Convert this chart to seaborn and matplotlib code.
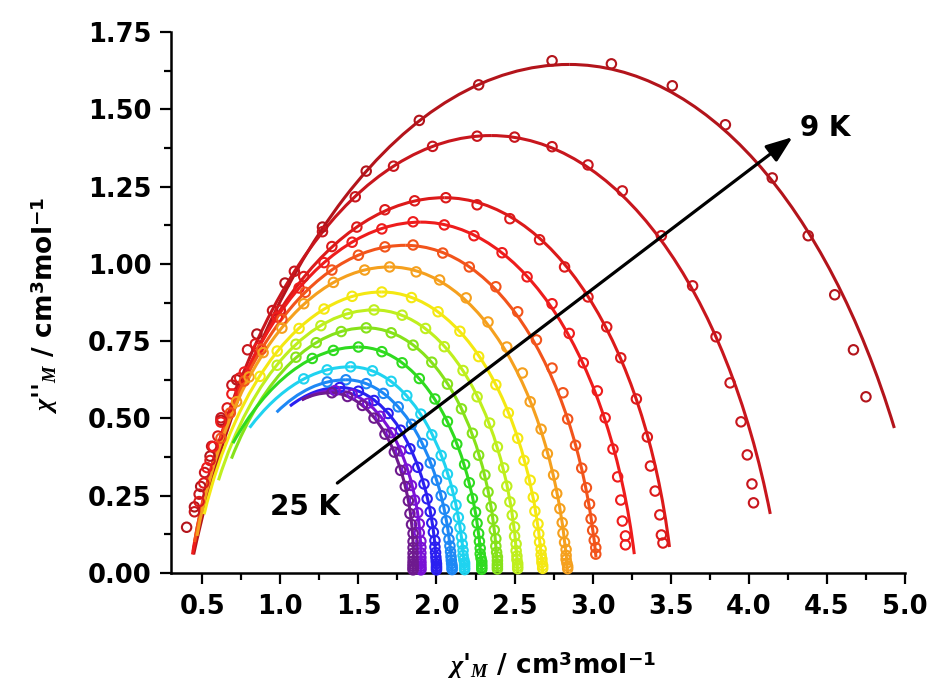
import numpy as np
import matplotlib
matplotlib.use("Agg")
import matplotlib.pyplot as plt
from matplotlib.patches import Arc
from matplotlib.ticker import MultipleLocator, FormatStrFormatter
import seaborn as sns

# ---------------- data ----------------
temps = [9, 10, 11, 12, 13, 14, 15, 16, 17, 18, 19, 20, 21, 23, 25]
colors = ["#B3141B", "#C8161D", "#DC1A1A", "#EE1C1C", "#F2541B", "#F5A01E",
          "#F4E812", "#BFEF1E", "#86E21A", "#2FDB1F", "#1FD3F0", "#1E88F5",
          "#2A1FF0", "#7A12D6", "#6E1A8E"]

# fitted Cole-Cole arcs: peak position/height, intercepts, drawn extent
peak_x = [2.85, 2.35, 2.05, 1.90, 1.80, 1.70, 1.65, 1.60, 1.55, 1.50, 1.45, 1.42, 1.38, 1.35, 1.32]
peak_y = [1.645, 1.415, 1.214, 1.135, 1.06, 0.99, 0.909, 0.851, 0.793, 0.731, 0.667, 0.625, 0.60, 0.59, 0.583]
chi_s = [0.42, 0.42, 0.42, 0.42, 0.42, 0.43, 0.44, 0.47, 0.50, 0.40, 0.40, 0.50, 0.55, 0.60, 0.60]
chi_t = [5.15, 4.20, 3.51, 3.28, 3.03, 2.84, 2.68, 2.52, 2.39, 2.29, 2.18, 2.10, 2.00, 1.90, 1.85]
line_y_left = [0.06, 0.08, 0.07, 0.06, 0.10, 0.12, 0.19, 0.30, 0.37, 0.42, 0.47, 0.52, 0.54, 0.56, 0.56]
line_y_right = [0.469, 0.191, 0.084, 0.061, 0.05, 0, 0, 0, 0, 0, 0, 0, 0, 0, 0]

# experimental points chi' (chi1) and chi'' (chi2)
chi1_09 = [0.40, 0.45, 0.49, 0.55, 0.62, 0.72, 0.85, 1.03, 1.27, 1.55, 1.89, 2.27, 2.74, 3.12, 3.51, 3.85, 4.15, 4.38, 4.55, 4.67, 4.75]
chi2_09 = [0.148, 0.214, 0.280, 0.378, 0.494, 0.625, 0.773, 0.938, 1.119, 1.300, 1.464, 1.579, 1.657, 1.647, 1.576, 1.450, 1.278, 1.091, 0.900, 0.722, 0.570]
chi1_10 = [0.45, 0.48, 0.515, 0.56, 0.62, 0.69, 0.79, 0.95, 1.09, 1.27, 1.48, 1.725, 1.975, 2.26, 2.50, 2.74, 2.97, 3.19, 3.44, 3.64, 3.79, 3.88, 3.95, 3.99, 4.02, 4.03]
chi2_10 = [0.198, 0.255, 0.325, 0.410, 0.502, 0.608, 0.722, 0.849, 0.976, 1.104, 1.217, 1.316, 1.380, 1.413, 1.410, 1.379, 1.320, 1.236, 1.091, 0.929, 0.764, 0.615, 0.489, 0.382, 0.288, 0.227]
chi1_11 = [0.48, 0.51, 0.55, 0.60, 0.66, 0.74, 0.84, 1.00, 1.15, 1.33, 1.49, 1.67, 1.86, 2.06, 2.26, 2.47, 2.66, 2.82, 2.97, 3.09, 3.18, 3.28, 3.35, 3.37, 3.40, 3.43, 3.44, 3.45]
chi2_11 = [0.231, 0.291, 0.364, 0.443, 0.534, 0.631, 0.741, 0.850, 0.959, 1.056, 1.119, 1.175, 1.204, 1.214, 1.191, 1.146, 1.078, 0.990, 0.893, 0.796, 0.696, 0.563, 0.440, 0.346, 0.265, 0.188, 0.123, 0.097]
chi1_12 = [0.53, 0.57, 0.62, 0.69, 0.77, 0.86, 0.98, 1.12, 1.28, 1.46, 1.65, 1.85, 2.05, 2.24, 2.42, 2.58, 2.74, 2.85, 2.94, 3.03, 3.08, 3.13, 3.16, 3.18, 3.19, 3.21, 3.21]
chi2_12 = [0.341, 0.409, 0.488, 0.579, 0.650, 0.728, 0.828, 0.922, 1.004, 1.070, 1.113, 1.136, 1.126, 1.091, 1.036, 0.958, 0.871, 0.775, 0.680, 0.589, 0.502, 0.401, 0.311, 0.236, 0.168, 0.120, 0.091]
chi1_13 = [0.62, 0.68, 0.77, 0.88, 1.01, 1.16, 1.33, 1.50, 1.67, 1.85, 2.04, 2.21, 2.38, 2.52, 2.64, 2.74, 2.81, 2.84, 2.89, 2.93, 2.96, 2.98, 2.99, 3.00, 3.01, 3.02, 3.02]
chi2_13 = [0.436, 0.518, 0.621, 0.724, 0.821, 0.908, 0.980, 1.028, 1.055, 1.061, 1.035, 0.990, 0.926, 0.845, 0.754, 0.663, 0.583, 0.498, 0.413, 0.339, 0.276, 0.223, 0.175, 0.138, 0.106, 0.082, 0.061]
chi1_14 = [0.72, 0.80, 0.89, 1.01, 1.15, 1.34, 1.54, 1.70, 1.87, 2.02, 2.19, 2.33, 2.45, 2.55, 2.60, 2.67, 2.71, 2.75, 2.77, 2.79, 2.805, 2.81, 2.82, 2.83, 2.83, 2.83, 2.835, 2.84, 2.84]
chi2_14 = [0.554, 0.634, 0.713, 0.792, 0.871, 0.940, 0.980, 0.990, 0.974, 0.948, 0.890, 0.812, 0.731, 0.647, 0.554, 0.465, 0.386, 0.317, 0.257, 0.208, 0.163, 0.129, 0.099, 0.076, 0.057, 0.044, 0.032, 0.022, 0.014]
chi1_15 = [0.87, 0.98, 1.12, 1.28, 1.46, 1.65, 1.84, 2.01, 2.15, 2.27, 2.38, 2.46, 2.52, 2.56, 2.60, 2.62, 2.63, 2.65, 2.655, 2.66, 2.67, 2.67, 2.675, 2.675, 2.68, 2.68]
chi2_15 = [0.636, 0.718, 0.791, 0.854, 0.895, 0.909, 0.891, 0.845, 0.782, 0.700, 0.609, 0.518, 0.436, 0.364, 0.300, 0.245, 0.200, 0.159, 0.127, 0.100, 0.077, 0.059, 0.045, 0.034, 0.024, 0.015]
chi1_16 = [0.98, 1.10, 1.26, 1.43, 1.60, 1.78, 1.93, 2.05, 2.17, 2.26, 2.34, 2.39, 2.43, 2.45, 2.47, 2.485, 2.50, 2.50, 2.51, 2.51, 2.515, 2.515, 2.52, 2.52, 2.52]
chi2_16 = [0.672, 0.740, 0.800, 0.838, 0.851, 0.834, 0.791, 0.732, 0.655, 0.570, 0.485, 0.408, 0.340, 0.281, 0.230, 0.187, 0.149, 0.119, 0.094, 0.072, 0.055, 0.043, 0.031, 0.022, 0.014]
chi1_17 = [1.10, 1.23, 1.39, 1.55, 1.71, 1.85, 1.97, 2.07, 2.16, 2.23, 2.27, 2.31, 2.33, 2.35, 2.36, 2.37, 2.38, 2.38, 2.385, 2.39, 2.39, 2.39, 2.39, 2.39]
chi2_17 = [0.698, 0.745, 0.781, 0.793, 0.777, 0.737, 0.682, 0.611, 0.531, 0.452, 0.381, 0.317, 0.262, 0.214, 0.174, 0.139, 0.111, 0.087, 0.067, 0.052, 0.040, 0.029, 0.021, 0.013]
chi1_18 = [1.205, 1.34, 1.50, 1.65, 1.78, 1.89, 1.99, 2.07, 2.13, 2.18, 2.21, 2.23, 2.25, 2.26, 2.27, 2.275, 2.28, 2.28, 2.285, 2.29, 2.29, 2.29, 2.29]
chi2_18 = [0.694, 0.720, 0.731, 0.716, 0.680, 0.629, 0.563, 0.490, 0.417, 0.351, 0.292, 0.241, 0.197, 0.161, 0.128, 0.102, 0.080, 0.062, 0.048, 0.037, 0.027, 0.019, 0.012]
chi1_19 = [1.15, 1.30, 1.45, 1.59, 1.71, 1.81, 1.90, 1.97, 2.03, 2.07, 2.10, 2.125, 2.14, 2.15, 2.16, 2.165, 2.17, 2.17, 2.175, 2.18, 2.18, 2.18, 2.18]
chi2_19 = [0.628, 0.657, 0.667, 0.654, 0.620, 0.574, 0.514, 0.447, 0.380, 0.320, 0.267, 0.220, 0.180, 0.147, 0.117, 0.093, 0.073, 0.057, 0.043, 0.033, 0.025, 0.017, 0.011]
chi1_20 = [1.30, 1.42, 1.55, 1.66, 1.755, 1.84, 1.91, 1.96, 2.00, 2.03, 2.05, 2.063, 2.07, 2.08, 2.086, 2.09, 2.093, 2.095, 2.097, 2.10, 2.10, 2.10]
chi2_20 = [0.618, 0.625, 0.6125, 0.581, 0.5375, 0.481, 0.419, 0.356, 0.300, 0.250, 0.206, 0.169, 0.1375, 0.109, 0.0875, 0.069, 0.053, 0.041, 0.031, 0.023, 0.016, 0.011]
chi1_21 = [1.38, 1.50, 1.60, 1.69, 1.77, 1.83, 1.88, 1.92, 1.94, 1.96, 1.97, 1.98, 1.99, 1.99, 1.994, 1.996, 1.998, 2.00, 2.00, 2.00, 2.00]
chi2_21 = [0.600, 0.588, 0.558, 0.516, 0.462, 0.402, 0.342, 0.288, 0.240, 0.198, 0.162, 0.132, 0.105, 0.084, 0.066, 0.051, 0.039, 0.030, 0.022, 0.016, 0.010]
chi1_23 = [1.35, 1.46, 1.56, 1.64, 1.71, 1.77, 1.81, 1.84, 1.86, 1.88, 1.89, 1.89, 1.90, 1.90, 1.90, 1.90, 1.90, 1.90, 1.90, 1.90, 1.90]
chi2_23 = [0.590, 0.578, 0.549, 0.507, 0.454, 0.395, 0.336, 0.283, 0.236, 0.195, 0.159, 0.130, 0.103, 0.083, 0.065, 0.050, 0.038, 0.030, 0.022, 0.015, 0.010]
chi1_25 = [1.33, 1.43, 1.525, 1.60, 1.67, 1.73, 1.77, 1.80, 1.82, 1.83, 1.84, 1.85, 1.85, 1.85, 1.85, 1.85, 1.85, 1.85, 1.85, 1.85, 1.85]
chi2_25 = [0.583, 0.571, 0.542, 0.501, 0.449, 0.391, 0.332, 0.280, 0.233, 0.192, 0.157, 0.128, 0.102, 0.082, 0.064, 0.050, 0.038, 0.029, 0.022, 0.015, 0.010]

points = [(chi1_09, chi2_09), (chi1_10, chi2_10), (chi1_11, chi2_11), (chi1_12, chi2_12),
          (chi1_13, chi2_13), (chi1_14, chi2_14), (chi1_15, chi2_15), (chi1_16, chi2_16),
          (chi1_17, chi2_17), (chi1_18, chi2_18), (chi1_19, chi2_19), (chi1_20, chi2_20),
          (chi1_21, chi2_21), (chi1_23, chi2_23), (chi1_25, chi2_25)]

x_ticks = [0.5, 1.0, 1.5, 2.0, 2.5, 3.0, 3.5, 4.0, 4.5, 5.0]
y_ticks = [0.00, 0.25, 0.50, 0.75, 1.00, 1.25, 1.50, 1.75]

# ---------------- style ----------------
sns.set_style("ticks")
plt.rcParams.update({
    "font.family": ["DejaVu Sans"],
    "font.weight": "bold",
    "mathtext.fontset": "custom",
    "mathtext.rm": "DejaVu Sans:bold",
    "mathtext.bf": "DejaVu Sans:bold",
    "mathtext.sf": "DejaVu Sans:bold",
    "mathtext.it": "Liberation Serif:italic",
    "axes.edgecolor": "black",
    "axes.labelcolor": "black",
    "text.color": "black",
    "xtick.color": "black",
    "ytick.color": "black",
})

fig = plt.figure(figsize=(9.33, 6.9), dpi=100, facecolor="white")
ax = fig.add_axes([171 / 933, 117 / 690, 734 / 933, 541 / 690])

# fitted arcs (two circular halves meeting at the peak)
for i, T in enumerate(temps):
    c = colors[i]
    xp, P = peak_x[i], peak_y[i]
    wR = chi_t[i] - xp
    RR = (wR ** 2 + P ** 2) / (2 * P)
    cyR = P - RR
    t_end = np.degrees(np.arcsin((line_y_right[i] - cyR) / RR))
    ax.add_patch(Arc((xp, cyR), 2 * RR, 2 * RR, theta1=t_end, theta2=90,
                     color=c, lw=2.2, zorder=2))
    wL = xp - chi_s[i]
    RL = (wL ** 2 + P ** 2) / (2 * P)
    cyL = P - RL
    t_start = 180 - np.degrees(np.arcsin((line_y_left[i] - cyL) / RL))
    ax.add_patch(Arc((xp, cyL), 2 * RL, 2 * RL, theta1=90, theta2=t_start,
                     color=c, lw=2.2, zorder=2))

# experimental points
for i, T in enumerate(temps):
    xs, ys = points[i]
    sns.scatterplot(x=xs, y=ys, ax=ax, marker="o", s=46, facecolor="none",
                    edgecolor=colors[i], linewidth=1.5, legend=False,
                    zorder=3, clip_on=False)

# arrow and labels
ax.annotate("", xy=(4.28, 1.41), xytext=(1.365, 0.291),
            arrowprops=dict(arrowstyle="-|>,head_length=0.8,head_width=0.3",
                            color="black", lw=2.3, shrinkA=0, shrinkB=0,
                            mutation_scale=20), zorder=6)
ax.text(4.33, 1.44, "9 K", fontsize=20, fontweight="bold", ha="left",
        va="center", color="black", zorder=7)
ax.text(1.16, 0.214, "25 K", fontsize=20, fontweight="bold", ha="center",
        va="center", color="black", zorder=7)

# axes
ax.set_xlim(0.3, 5.0)
ax.set_ylim(0, 1.75)
ax.set_xticks(x_ticks)
ax.set_yticks(y_ticks)
ax.xaxis.set_minor_locator(MultipleLocator(0.25))
ax.yaxis.set_minor_locator(MultipleLocator(0.125))
ax.xaxis.set_major_formatter(FormatStrFormatter("%.1f"))
ax.yaxis.set_major_formatter(FormatStrFormatter("%.2f"))
ax.tick_params(which="major", direction="out", length=8, width=1.6,
               labelsize=18.5, colors="black")
ax.tick_params(which="minor", direction="out", length=5, width=1.6,
               colors="black")
ax.tick_params(axis="x", which="major", pad=7)
ax.tick_params(axis="y", which="major", pad=6)
sns.despine(ax=ax)
for s in ["left", "bottom"]:
    ax.spines[s].set_linewidth(1.8)
    ax.spines[s].set_color("black")

ax.set_xlabel(r"$\chi$'$_{M}$ / cm$^{3}$mol$^{-1}$",
              fontsize=19, fontweight="bold")
ax.set_ylabel(r"$\chi$''$_{M}$ / cm$^{3}$mol$^{-1}$",
              fontsize=19, fontweight="bold")
ax.xaxis.label.set_verticalalignment("center")
ax.yaxis.label.set_verticalalignment("center")
ax.xaxis.set_label_coords(0.519, -0.170)
ax.yaxis.set_label_coords(-0.172, 0.495)

fig.savefig("out.png", dpi=100, facecolor="white")
